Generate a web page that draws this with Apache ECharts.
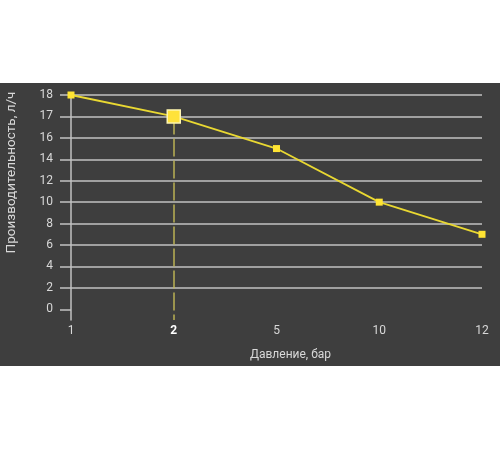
<!DOCTYPE html>
<html>
<head>
<meta charset="utf-8">
<script src="https://cdn.jsdelivr.net/npm/echarts@6/dist/echarts.min.js"></script>
<style>
  html, body { margin: 0; padding: 0; background: #ffffff; }
  #wrap { position: relative; width: 500px; height: 450px; }
  #chart { position: absolute; left: 0; top: 83px; width: 500px; height: 283px; }
</style>
</head>
<body>
<div id="wrap"><div id="chart"></div></div>
<script>
// Data
const categories = ['1', '2', '5', '10', '12'];
const values = [18, 17, 15, 10, 7];
const highlightIndex = 1;
const yTickLabels = [0, 2, 4, 6, 8, 10, 12, 14, 16, 17, 18];
const xName = 'Давление, бар';
const yName = 'Производительность, л/ч';

// y axis is evenly spaced over the tick labels: map value -> tick position
function toPos(v) {
  for (let i = 0; i < yTickLabels.length - 1; i++) {
    const a = yTickLabels[i], b = yTickLabels[i + 1];
    if (v >= a && v <= b) return i + (v - a) / (b - a);
  }
  return v < yTickLabels[0] ? 0 : yTickLabels.length - 1;
}
const tickPositions = yTickLabels.map((_, i) => i);

const gridColor = '#c2c2c2';
const labelColor = '#d8d8d8';

const seriesData = values.map((v, i) => {
  const item = { value: [categories[i], toPos(v)] };
  if (i === highlightIndex) {
    item.symbolSize = 13;
    item.itemStyle = { color: '#ffe23a', borderColor: '#fff6b0', borderWidth: 1.5 };
  }
  return item;
});

const chart = echarts.init(document.getElementById('chart'), null, { renderer: 'canvas' });
chart.setOption({
  backgroundColor: '#3e3e3e',
  animation: false,
  textStyle: { fontFamily: 'Roboto' },
  grid: { left: 71, right: 18, top: 12, bottom: 46, containLabel: false, outerBoundsMode: 'none' },
  xAxis: {
    type: 'category',
    data: categories,
    boundaryGap: false,
    axisLine: { show: false },
    axisTick: { show: false },
    splitLine: { show: false },
    axisLabel: {
      color: labelColor,
      fontSize: 12,
      margin: 5,
      formatter: (v) => (v === categories[highlightIndex] ? '{b|' + v + '}' : v),
      rich: { b: { fontWeight: 'bold', color: '#ffffff', fontSize: 12 } }
    },
    name: xName,
    nameLocation: 'middle',
    nameGap: 29,
    nameTextStyle: { color: labelColor, fontSize: 12, padding: [0, 0, 0, 28] }
  },
  yAxis: {
    type: 'value',
    min: -0.5,
    max: yTickLabels.length - 1,
    splitNumber: 10,
    axisLine: { show: true, lineStyle: { color: gridColor, width: 1.5 } },
    axisTick: {
      show: true, length: 11, customValues: tickPositions,
      lineStyle: { color: gridColor, width: 1.5 }
    },
    axisLabel: {
      color: labelColor,
      fontSize: 12,
      margin: 18,
      customValues: tickPositions,
      formatter: (v) => {
        const r = Math.round(v);
        return Math.abs(v - r) < 1e-6 && yTickLabels[r] !== undefined ? String(yTickLabels[r]) : '';
      }
    },
    splitLine: { show: true, showMinLine: false, lineStyle: { color: gridColor, width: 1.5 } },
    name: yName,
    nameLocation: 'middle',
    nameGap: 52,
    nameRotate: 90,
    nameTextStyle: { color: labelColor, fontSize: 13.5, padding: [0, 0, 0, 70] }
  },
  series: [{
    type: 'line',
    data: seriesData,
    symbol: 'rect',
    symbolSize: 7,
    lineStyle: { color: '#e9d832', width: 1.8 },
    itemStyle: { color: '#ffe433' },
    z: 5,
    markLine: {
      silent: true,
      symbol: ['none', 'none'],
      label: { show: false },
      lineStyle: { color: 'rgba(195,185,85,0.7)', type: [18, 4], width: 2 },
      data: [[
        { coord: [categories[highlightIndex], toPos(values[highlightIndex])] },
        { coord: [categories[highlightIndex], -0.5] }
      ]]
    }
  }]
});
</script>
</body>
</html>
